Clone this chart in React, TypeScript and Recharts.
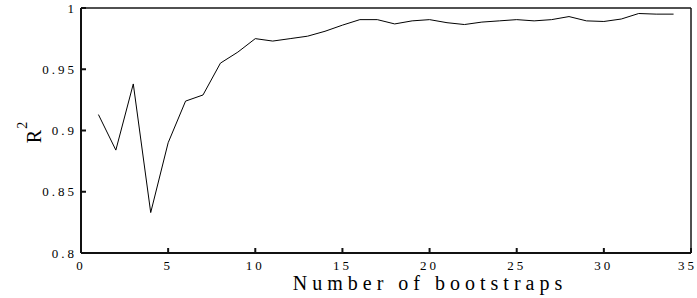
import React from "react";
import { LineChart, Line, XAxis, YAxis, ReferenceArea } from "recharts";

const bootstraps = [1,2,3,4,5,6,7,8,9,10,11,12,13,14,15,16,17,18,19,20,21,22,23,24,25,26,27,28,29,30,31,32,33,34];
const r2 = [0.913,0.884,0.938,0.833,0.890,0.924,0.929,0.955,0.964,0.975,0.973,0.975,0.977,0.981,0.986,0.9905,0.9905,0.987,0.9895,0.9905,0.988,0.9865,0.9885,0.9895,0.9905,0.9895,0.9905,0.993,0.9895,0.989,0.991,0.9955,0.995,0.995];
const xTicks = [0,5,10,15,20,25,30,35];
const yTicks = [0.8,0.85,0.9,0.95,1];
const xDomain: [number, number] = [0, 35];
const yDomain: [number, number] = [0.8, 1];

const data = bootstraps.map((b, i) => ({ b, r2: r2[i] }));

const FONT = "'Liberation Serif', 'Times New Roman', serif";
const INK = "#111111";
const tickStyle = { fill: "#000", fontSize: 13, fontFamily: FONT, letterSpacing: 3 };

const XLabel = (props: any) => {
  const vb = props.viewBox || {};
  const cx = vb.x + vb.width / 2 + 44;
  const cy = vb.y + 37;
  return (
    <text x={cx} y={cy} textAnchor="middle" fontFamily={FONT} fontSize={20} letterSpacing={5} fill="#000">
      Number of bootstraps
    </text>
  );
};

const YLabel = (props: any) => {
  const vb = props.viewBox || {};
  const cx = vb.x + 41;
  const cy = vb.y + vb.height / 2 + 2;
  return (
    <text x={cx} y={cy} transform={`rotate(-90, ${cx}, ${cy})`} textAnchor="middle" fontFamily={FONT} fontSize={20} fill="#000">
      R<tspan fontSize={14} dy={-14} dx={1}>2</tspan>
    </text>
  );
};

export default function App() {
  return (
    <div style={{ position: "absolute", left: 0, top: 0, width: 697, height: 298, background: "#fff" }}>
      <LineChart width={697} height={298} data={data} margin={{ top: 7, right: 5, bottom: 0, left: 0 }}>
        <XAxis
          xAxisId="top"
          orientation="top"
          type="number"
          dataKey="b"
          domain={xDomain}
          ticks={xTicks}
          height={1}
          stroke={INK}
          strokeWidth={1}
          tickSize={-5}
          tick={false}
        />
        <YAxis
          yAxisId="right"
          orientation="right"
          type="number"
          domain={yDomain}
          ticks={yTicks}
          width={1}
          stroke={INK}
          strokeWidth={1}
          tickSize={-5}
          tick={{ fontSize: 0 }}
        />
        <XAxis
          type="number"
          dataKey="b"
          domain={xDomain}
          ticks={xTicks}
          height={45}
          stroke={INK}
          strokeWidth={2}
          tickSize={-5}
          tickMargin={13}
          tick={tickStyle}
          label={<XLabel />}
        />
        <YAxis
          type="number"
          domain={yDomain}
          ticks={yTicks}
          width={81}
          stroke={INK}
          strokeWidth={2}
          tickSize={-5}
          tickMargin={9}
          tick={tickStyle}
          label={<YLabel />}
        />
        <ReferenceArea
          x1={xDomain[0]}
          x2={xDomain[1]}
          y1={yDomain[0]}
          y2={yDomain[1]}
          fill="none"
          fillOpacity={0}
          stroke="#222222"
          strokeWidth={1}
          strokeOpacity={1}
          ifOverflow="visible"
        />
        <Line
          type="linear"
          dataKey="r2"
          stroke="#000"
          strokeWidth={1}
          dot={false}
          isAnimationActive={false}
        />
      </LineChart>
    </div>
  );
}
